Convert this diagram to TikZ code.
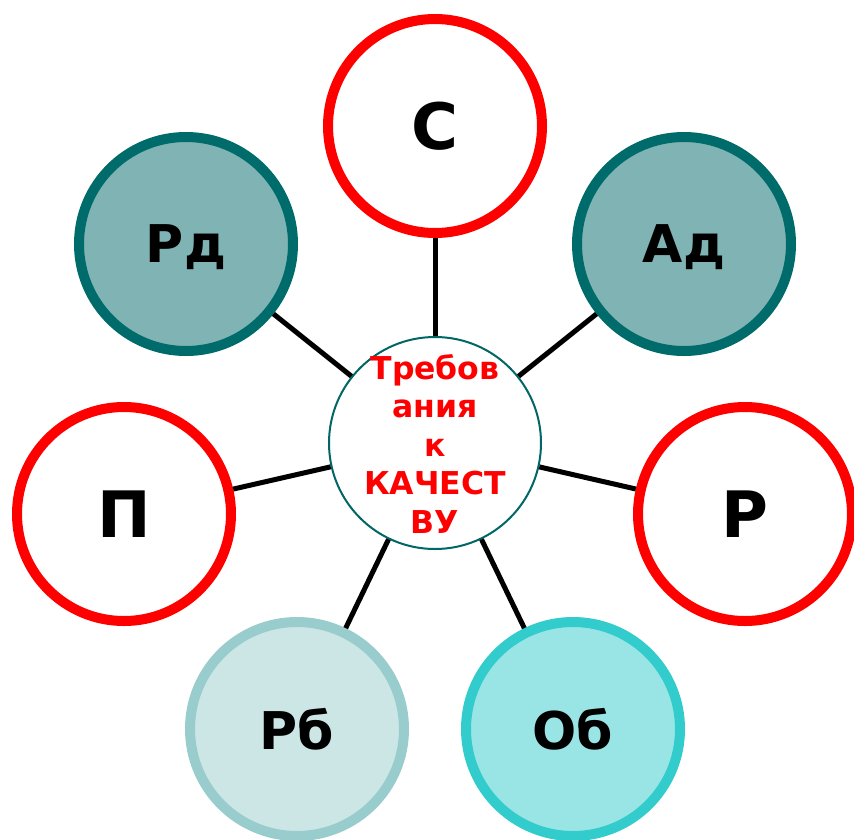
\documentclass[tikz,border=0pt]{standalone}
\usepackage{fontspec}
\setmainfont{DejaVu Sans}
\begin{document}
\begin{tikzpicture}[x=1pt,y=-1pt,
  outer/.style={circle,minimum size=214pt,inner sep=0pt,line width=10pt,text depth=0pt,font=\bfseries\fontsize{52}{60}\selectfont},
  redc/.style={outer,draw=red,fill=white,font=\bfseries\fontsize{64}{70}\selectfont},
  darkc/.style={outer,draw=tealdark,fill=tealmid},
  lightc/.style={outer,draw=teallight,fill=teallightfill},
  cyanc/.style={outer,draw=tealcyan,fill=tealcyanfill},
  link/.style={line width=5pt,black}]
\definecolor{tealdark}{RGB}{0,107,107}
\definecolor{tealmid}{RGB}{128,179,179}
\definecolor{teallight}{RGB}{153,204,204}
\definecolor{teallightfill}{RGB}{204,230,230}
\definecolor{tealcyan}{RGB}{51,204,204}
\definecolor{tealcyanfill}{RGB}{153,229,229}
\definecolor{centerline}{RGB}{0,102,102}
\useasboundingbox (0,0) rectangle (854,839);
\node[circle,minimum size=212pt,inner sep=0pt,draw=centerline,line width=2pt,fill=white] (m) at (435,443) {};
\node[text=red,align=center,inner sep=0pt,font=\bfseries\fontsize{31.5}{38.5}\selectfont] (mt) at (435,444)
  {Требов\\ания\\к\\КАЧЕСТ\\ВУ};
\node[redc] (c) at (435,126) {С};
\node[darkc] (rd) at (186,244) {Рд};
\node[darkc] (ad) at (684,244) {Ад};
\node[redc] (p) at (124,514) {П};
\node[redc] (r) at (745,514) {Р};
\node[lightc] (rb) at (297,729) {Рб};
\node[cyanc] (ob) at (573,729) {Об};
\foreach \t in {c,rd,ad,p,r,rb,ob}{\draw[link] (m) -- (\t);}
\end{tikzpicture}
\end{document}
